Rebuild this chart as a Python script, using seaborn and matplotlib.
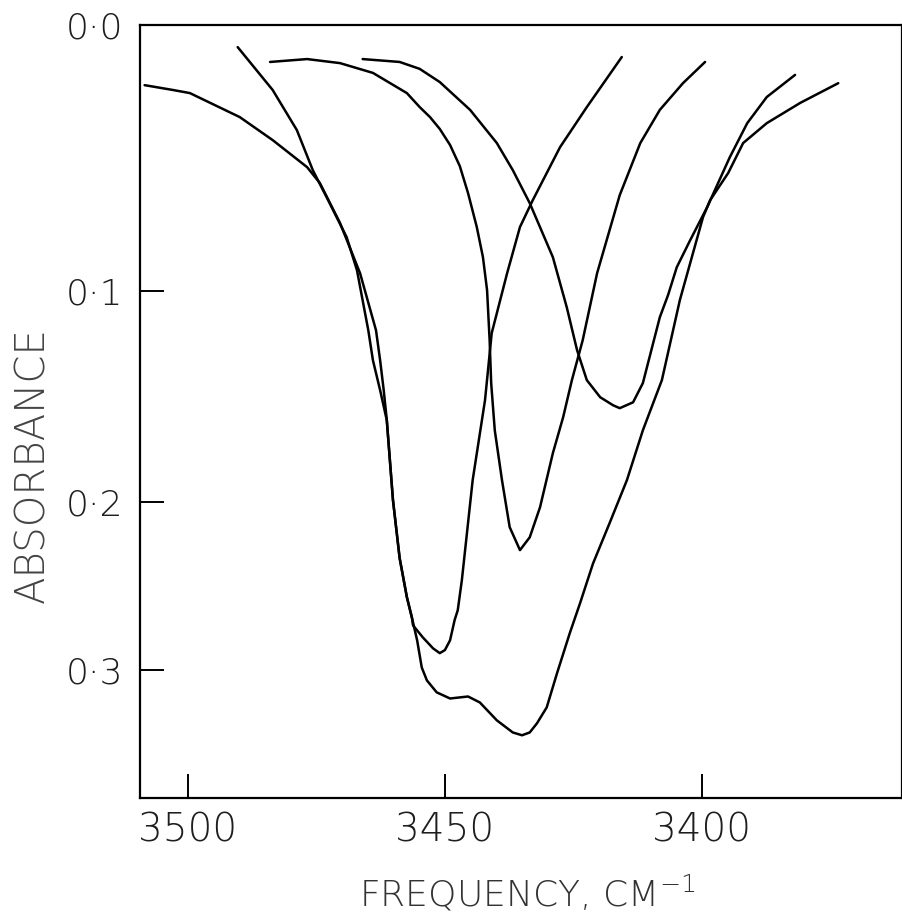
import numpy as np
import pandas as pd
import matplotlib
matplotlib.use("Agg")
import matplotlib.pyplot as plt
import seaborn as sns

# ---- data (frequency in cm^-1, absorbance) ----
freq_a = [3508.4, 3502.9, 3499.6, 3489.9, 3483.5, 3476.8, 3474.3, 3470.4, 3466.5, 3463.4,
          3462.6, 3461.9, 3461.3, 3460.7, 3460.1, 3458.8, 3457.4, 3456.4, 3456.2, 3454.3,
          3452.3, 3451.0, 3450.0, 3449.0, 3448.1, 3447.5, 3446.7, 3444.6, 3442.2, 3440.9,
          3437.9, 3435.4, 3432.9, 3427.6, 3422.4, 3415.6]
abs_a = [0.0207, 0.0224, 0.0235, 0.0321, 0.0405, 0.0506, 0.0567, 0.0722, 0.0926, 0.1170,
         0.1304, 0.1442, 0.1585, 0.1783, 0.1990, 0.2310, 0.2538, 0.2666, 0.2712, 0.2788,
         0.2859, 0.2890, 0.2870, 0.2807, 0.2678, 0.2618, 0.2437, 0.1885, 0.1489, 0.1183,
         0.0926, 0.0738, 0.0632, 0.0431, 0.0285, 0.0109]

freq_b = [3490.3, 3483.5, 3478.8, 3475.7, 3473.0, 3469.1, 3467.1, 3464.9, 3464.0, 3462.6,
          3461.3, 3460.7, 3460.1, 3458.8, 3457.4, 3456.4, 3455.4, 3454.5, 3453.5, 3451.6,
          3449.0, 3445.5, 3443.2, 3439.9, 3436.8, 3435.0, 3433.5, 3432.1, 3430.2, 3428.2,
          3425.7, 3423.7, 3421.2, 3417.9, 3414.6, 3411.5, 3407.8, 3404.3, 3399.8, 3398.4,
          3394.9, 3392.0, 3387.4, 3380.9, 3373.5]
abs_b = [0.0075, 0.0224, 0.0368, 0.0517, 0.0621, 0.0779, 0.0914, 0.1170, 0.1304, 0.1442,
         0.1585, 0.1783, 0.1990, 0.2310, 0.2538, 0.2666, 0.2807, 0.2985, 0.3072, 0.3154,
         0.3197, 0.3183, 0.3225, 0.3353, 0.3442, 0.3463, 0.3442, 0.3375, 0.3260, 0.3024,
         0.2760, 0.2574, 0.2341, 0.2109, 0.1885, 0.1634, 0.1395, 0.1039, 0.0699, 0.0632,
         0.0528, 0.0416, 0.0343, 0.0270, 0.0200]

freq_c = [3484.0, 3476.8, 3470.4, 3464.0, 3457.4, 3454.9, 3452.9, 3451.0, 3449.0, 3447.1,
          3445.5, 3443.8, 3442.6, 3441.8, 3441.3, 3441.0, 3440.3, 3438.9, 3437.4, 3435.4,
          3433.5, 3431.5, 3429.0, 3427.0, 3425.3, 3423.2, 3420.4, 3416.0, 3412.0, 3408.2,
          3403.7, 3399.4]
abs_c = [0.0126, 0.0116, 0.0130, 0.0164, 0.0235, 0.0285, 0.0321, 0.0364, 0.0423, 0.0502,
         0.0605, 0.0738, 0.0860, 0.0997, 0.1214, 0.1409, 0.1634, 0.1885, 0.2136, 0.2264,
         0.2192, 0.2028, 0.1747, 0.1570, 0.1395, 0.1214, 0.0926, 0.0613, 0.0416, 0.0295,
         0.0200, 0.0126]

freq_d = [3466.0, 3458.8, 3454.9, 3451.0, 3445.1, 3439.9, 3436.8, 3433.5, 3429.0, 3426.3,
          3424.3, 3422.4, 3419.8, 3417.3, 3416.0, 3413.4, 3411.5, 3408.2, 3406.6, 3404.9,
          3402.3, 3399.0, 3394.6, 3391.2, 3387.4, 3381.9]
abs_d = [0.0116, 0.0126, 0.0150, 0.0196, 0.0295, 0.0416, 0.0517, 0.0644, 0.0860, 0.1070,
         0.1258, 0.1395, 0.1475, 0.1513, 0.1527, 0.1499, 0.1409, 0.1113, 0.1018, 0.0901,
         0.0791, 0.0660, 0.0469, 0.0343, 0.0249, 0.0171]

x_ticks = [3500, 3450, 3400]
x_tick_labels = ["3500", "3450", "3400"]
y_ticks = [0.0, 0.1, 0.2, 0.3]
y_tick_labels = ["0·0", "0·1", "0·2", "0·3"]

frames = []
for name, f, a in [("a", freq_a, abs_a), ("b", freq_b, abs_b),
                   ("c", freq_c, abs_c), ("d", freq_d, abs_d)]:
    frames.append(pd.DataFrame({"freq": f, "absorbance": a, "curve": name}))
df = pd.concat(frames, ignore_index=True)

sns.set_style("ticks")
plt.rcParams["font.family"] = ["DejaVu Sans"]
plt.rcParams["font.weight"] = "light"

fig = plt.figure(figsize=(9.03, 9.22), dpi=100)
ax = fig.add_axes([140 / 903, 124 / 922, 762 / 903, 773 / 922])


def fwd(a):
    return 1.0 - np.power(10.0, -np.asarray(a, dtype=float))


def inv(t):
    t = np.clip(np.asarray(t, dtype=float), None, 0.999999)
    return -np.log10(1.0 - t)


ax.set_yscale("function", functions=(fwd, inv))

sns.lineplot(data=df, x="freq", y="absorbance", units="curve", estimator=None,
             sort=False, color="black", linewidth=1.8, ax=ax, legend=False)

ax.set_xlim(3509.3, 3361.1)
ax.set_ylim(0.3958, 0.0)

ax.set_xticks(x_ticks)
ax.set_xticklabels(x_tick_labels)
ax.set_yticks(y_ticks)
ax.set_yticklabels(y_tick_labels)
ax.minorticks_off()

ax.tick_params(axis="both", direction="in", length=17, width=1.4, color="black",
               labelcolor="#1e1e1e")
ax.tick_params(axis="x", labelsize=28, pad=10)
ax.tick_params(axis="y", labelsize=26, pad=12)

for sp in ax.spines.values():
    sp.set_visible(True)
    sp.set_linewidth(1.6)
    sp.set_color("black")

ax.set_xlabel("FREQUENCY, CM$^{-1}$", fontsize=26, color="#333333", fontweight="light")
ax.set_ylabel("ABSORBANCE", fontsize=29, color="#444444", fontweight="light")
ax.xaxis.set_label_coords(0.508, -0.097)
ax.yaxis.set_label_coords(-0.1155, 0.431)

fig.savefig("out.png", dpi=100, facecolor="white")
